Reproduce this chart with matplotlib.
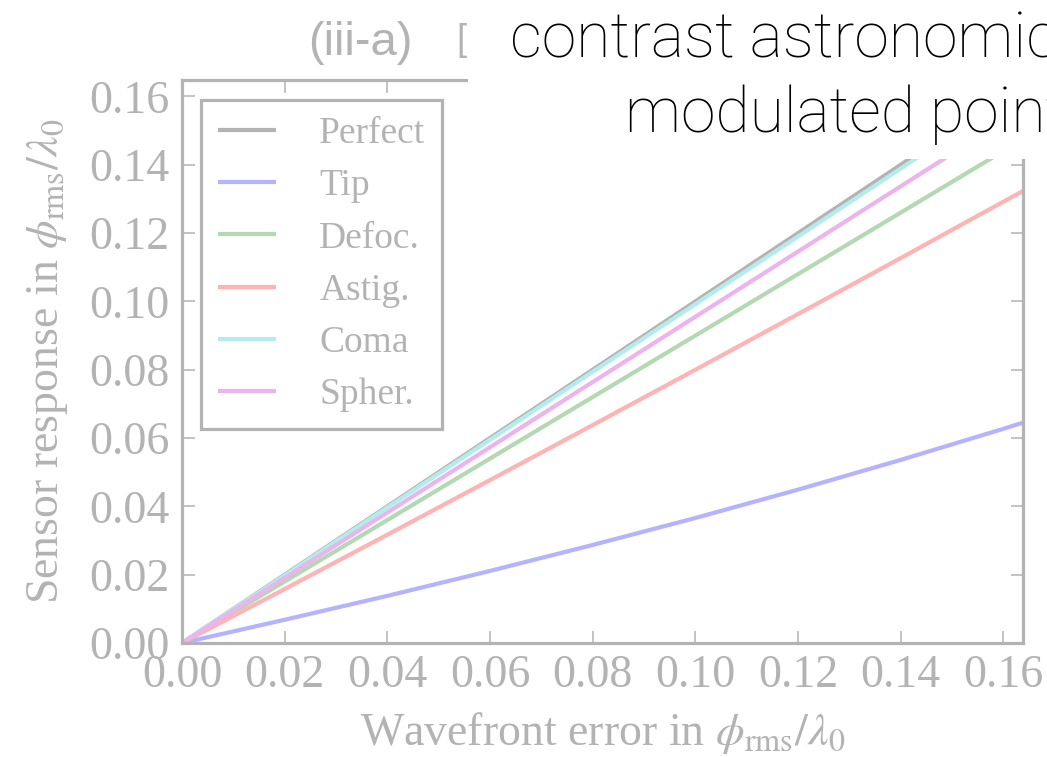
import matplotlib
matplotlib.use("Agg")
import matplotlib.pyplot as plt
from matplotlib.patches import Rectangle

# ---- data ----
x_err = [0, 0.02, 0.04, 0.06, 0.08, 0.10, 0.12, 0.14, 0.16, 0.1638]
perfect = [0, 0.0200, 0.0400, 0.0600, 0.0800, 0.1000, 0.1200, 0.1400, 0.1600, 0.1638]
tip = [0, 0.0068, 0.0138, 0.0211, 0.0287, 0.0366, 0.0449, 0.0536, 0.0627, 0.0645]
defoc = [0, 0.0180, 0.0360, 0.0540, 0.0720, 0.0900, 0.1080, 0.1260, 0.1440, 0.1474]
astig = [0, 0.0158, 0.0317, 0.0477, 0.0638, 0.0800, 0.0963, 0.1127, 0.1292, 0.1323]
coma = [0, 0.0198, 0.0397, 0.0595, 0.0794, 0.0992, 0.1190, 0.1389, 0.1587, 0.1624]
spher = [0, 0.0191, 0.0382, 0.0573, 0.0764, 0.0955, 0.1146, 0.1337, 0.1528, 0.1564]

series_names = ["Perfect", "Tip", "Defoc.", "Astig.", "Coma", "Spher."]
series_vals = [perfect, tip, defoc, astig, coma, spher]
colors = ["#b3b3b3", "#b3b3ff", "#b3d9b3", "#ffb3b3", "#b3ecec", "#ecb3ec"]
xticks = [0.00, 0.02, 0.04, 0.06, 0.08, 0.10, 0.12, 0.14, 0.16]
yticks = [0.00, 0.02, 0.04, 0.06, 0.08, 0.10, 0.12, 0.14, 0.16]

GRAY = "#b3b3b3"
plt.rcParams["font.family"] = ["Liberation Serif", "DejaVu Serif"]
plt.rcParams["mathtext.fontset"] = "stix"

W, H = 1047, 757
fig = plt.figure(figsize=(W / 100, H / 100), dpi=100)
ax = fig.add_axes([182 / W, 1 - 643 / H, (1023 - 182) / W, (643 - 80) / H])

for name, vals, c in zip(series_names, series_vals, colors):
    ax.plot(x_err, vals, color=c, lw=3, label=name, solid_capstyle="butt")

ax.set_xlim(0, 0.1638)
ax.set_ylim(0, 0.1648)
ax.set_xticks(xticks)
ax.set_yticks(yticks)
ax.set_xticklabels([f"{v:.2f}" for v in xticks])
ax.set_yticklabels([f"{v:.2f}" for v in yticks])
ax.tick_params(direction="in", top=True, right=True, length=9, width=1.1,
               color=GRAY, labelcolor=GRAY, labelsize=33, pad=8)
ax.tick_params(axis="y", pad=9)
for s in ax.spines.values():
    s.set_color(GRAY)
    s.set_linewidth(2.3)

ax.set_xlabel(r"Wavefront error in $\phi_{\rm rms}/\lambda_0$", color=GRAY, fontsize=33, labelpad=10)
ax.set_ylabel(r"Sensor response in $\phi_{\rm rms}/\lambda_0$", color=GRAY, fontsize=33, labelpad=14)

leg = ax.legend(loc="upper left", bbox_to_anchor=(0.0226, 0.9645), borderaxespad=0,
                fontsize=27, frameon=True, fancybox=False, framealpha=1,
                handlelength=1.55, handletextpad=1.15, borderpad=0.45, labelspacing=0.47)
leg.get_frame().set_edgecolor(GRAY)
leg.get_frame().set_linewidth(2.3)
for t in leg.get_texts():
    t.set_color(GRAY)

# gray title fragments
fig.text(308 / W, 1 - 55 / H, "(iii-a)", color=GRAY, fontsize=34,
         family="Liberation Sans", ha="left", va="baseline")
fig.text(456 / W, 1 - 50 / H, "[", color=GRAY, fontsize=26,
         family="Liberation Sans", ha="left", va="baseline")

# white overlay box with black slide text
fig.patches.append(Rectangle((468 / W, 1 - 159 / H), (W - 468) / W, 159 / H,
                             transform=fig.transFigure, facecolor="white",
                             edgecolor="none", zorder=10))
fig.text(510 / W, 1 - 57 / H, "contrast astronomical", color="black", fontsize=45,
         family="Roboto", fontweight="light", ha="left", va="baseline", zorder=11)
fig.text(625 / W, 1 - 132 / H, "modulated point", color="black", fontsize=45,
         family="Roboto", fontweight="light", ha="left", va="baseline", zorder=11)

fig.savefig("out.png", dpi=100)
